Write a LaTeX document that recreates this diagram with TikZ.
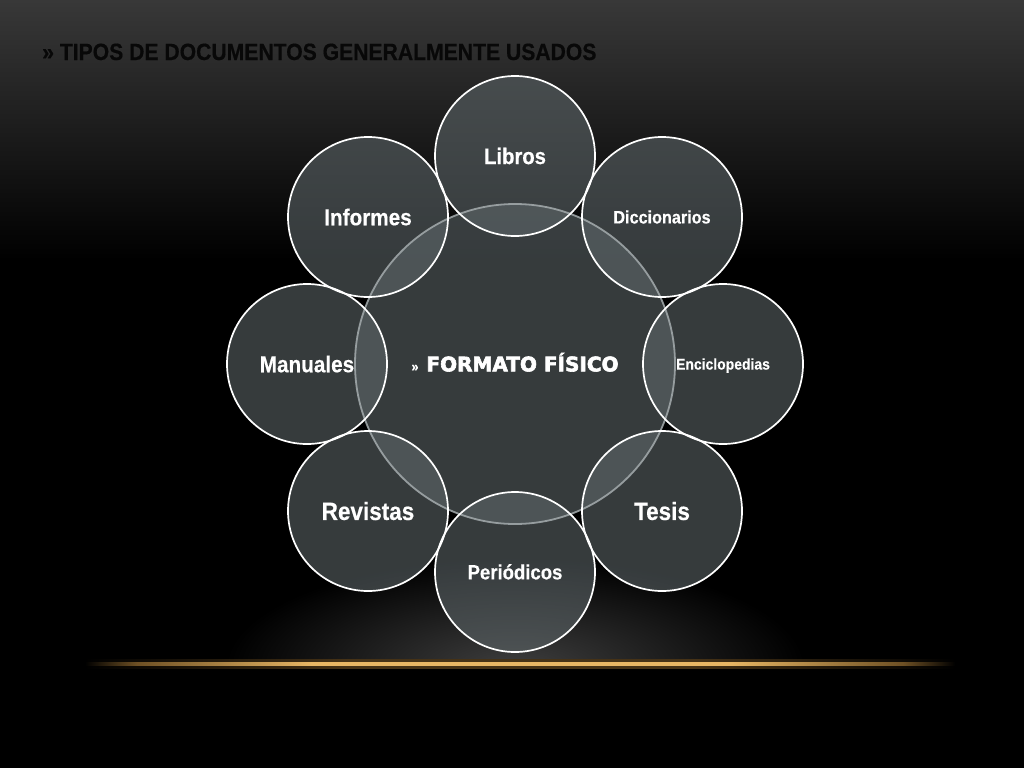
\documentclass[tikz,border=0pt]{standalone}
\usepackage{fontspec}
\setmainfont{Liberation Sans}
\newfontfamily\narrowfont[FakeStretch=0.9,BoldFeatures={FakeBold=0.4}]{Liberation Sans}
\newfontfamily\heavyfont[BoldFeatures={FakeBold=3}]{DejaVu Sans}
\definecolor{circfill}{RGB}{95,104,107}
\definecolor{ringgray}{RGB}{165,172,174}
\definecolor{bgtop}{RGB}{56,56,56}
\definecolor{glowc}{RGB}{62,62,62}
\definecolor{gold}{RGB}{232,182,100}
\definecolor{golddim}{RGB}{110,80,36}
\definecolor{goldhal}{RGB}{70,50,22}
\definecolor{titlec}{RGB}{8,8,8}
\pgfdeclarehorizontalshading{goldline}{100bp}{color(0bp)=(black); color(25bp)=(black); color(28bp)=(golddim); color(38bp)=(gold); color(62bp)=(gold); color(72bp)=(golddim); color(75bp)=(black); color(100bp)=(black)}
\pgfdeclarehorizontalshading{goldhalo}{100bp}{color(0bp)=(black); color(25bp)=(black); color(40bp)=(goldhal); color(60bp)=(goldhal); color(75bp)=(black); color(100bp)=(black)}
\begin{document}
\begin{tikzpicture}[x=1pt,y=-1pt,
  outer/.style={circle,minimum size=160pt,inner sep=0pt,fill=circfill,fill opacity=0.57,text opacity=1,text=white,text depth=0pt},
  ring/.style={draw=white,line width=1.7pt},
  lab/.style={font=\narrowfont\bfseries\fontsize{#1}{#1}\selectfont}]
\useasboundingbox (0,0) rectangle (1024,768);
% background
\fill[black] (0,0) rectangle (1024,768);
\shade[top color=bgtop,bottom color=black] (0,0) rectangle (1024,260);
\begin{scope}
  \clip (0,540) rectangle (1024,663);
  \shade[inner color=glowc,outer color=black] (515,668) ellipse [x radius=290,y radius=110];
\end{scope}
\shade[shading=goldhalo] (85,659) rectangle (955,668);
\shade[shading=goldline] (85,662) rectangle (955,665);
% title
\node[anchor=base west,inner sep=0pt,text=titlec,font=\narrowfont\bfseries\fontsize{23.5}{23.5}\selectfont] (title) at (42,60) {» TIPOS DE DOCUMENTOS GENERALMENTE USADOS};
% outer circles
\node[outer,lab=22.5,text height=16.1pt] (lib) at (515,156) {Libros};
\node[outer,lab=18,text height=12.9pt] (dic) at (662,217) {Diccionarios};
\node[outer,lab=15.5,text height=11.1pt] (enc) at (723,364) {Enciclopedias};
\node[outer,lab=25,text height=17.9pt] (tes) at (662,511) {Tesis};
\node[outer,lab=25,text height=17.9pt] (rev) at (368,511) {Revistas};
\node[outer,lab=23,text height=16.5pt] (man) at (307,364) {Manuales};
\node[outer,lab=23,text height=16.5pt] (inf) at (368,217) {Informes};
\node[outer,lab=20.6,text height=14.7pt] (per) at (515,572) {Periódicos};
% center circle
\node[circle,minimum size=320pt,inner sep=0pt,fill=circfill,fill opacity=0.57,text opacity=1,text=white,draw=ringgray,draw opacity=0.85,line width=1.8pt,text depth=0pt,text height=14.7pt] (fmt) at (515,364)
  {{\narrowfont\bfseries\fontsize{14}{14}\selectfont »}\hspace{8pt}{\heavyfont\bfseries\fontsize{20}{20}\selectfont FORMATO FÍSICO}};
% outer borders on top
\foreach \n in {lib,dic,enc,tes,rev,man,inf,per}
  \draw[ring] (\n.center) circle [radius=80pt];
\end{tikzpicture}
\end{document}
